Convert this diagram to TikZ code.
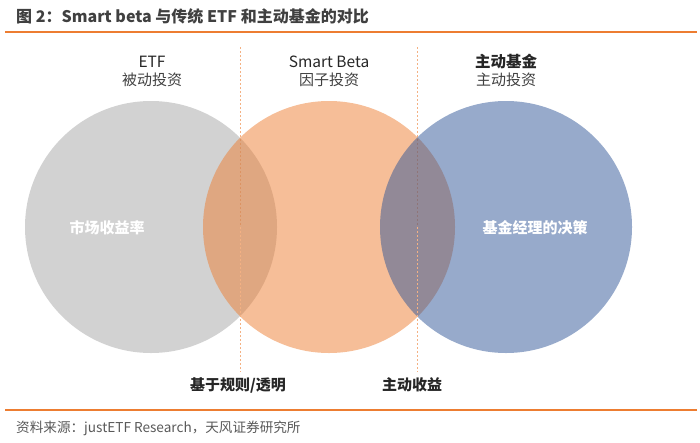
\documentclass[tikz,border=0pt]{standalone}
\usepackage{fontspec}
\setmainfont{Noto Sans CJK SC}
\usetikzlibrary{positioning}
\definecolor{Ink}{HTML}{262626}
\definecolor{InkSoft}{HTML}{404040}
\definecolor{InkNote}{HTML}{595959}
\definecolor{RuleOrange}{HTML}{ED7D31}
\definecolor{DashOrange}{HTML}{F4B183}
\definecolor{EtfGray}{HTML}{A5A5A5}
\definecolor{BetaOrange}{HTML}{ED7D31}
\definecolor{ActiveBlue}{HTML}{2F5597}
\tikzset{
  rule/.style={RuleOrange, line width=1.5pt},
  divider/.style={DashOrange, line width=0.8pt, dash pattern=on 2pt off 2pt},
  setcircle/.style={circle, minimum size=252pt, inner sep=0pt, fill=#1, fill opacity=0.5},
  heading/.style={inner sep=0pt, text height=11pt, text depth=2pt, text=Ink,
    font=\fontsize{15.5}{17}\selectfont},
  subheading/.style={heading, text=InkSoft, font=\fontsize{15}{17}\selectfont},
  incircle/.style={inner sep=0pt, text=white, font=\fontsize{15}{17}\selectfont\bfseries},
  footlabel/.style={inner sep=0pt, text=Ink, font=\fontsize{15}{17}\selectfont\bfseries}
}

\begin{document}
\begin{tikzpicture}[x=1pt,y=-1pt]
  \useasboundingbox (0,0) rectangle (700,442);
  \node[anchor=west, inner sep=0pt, text=InkSoft, font=\fontsize{16}{18}\selectfont\bfseries]
    (title) at (16,16) {图 2：Smart beta 与传统 ETF 和主动基金的对比};
  \coordinate (ruletopl) at (5,32);
  \coordinate (ruletopr) at (697,32);
  \draw[rule] (ruletopl) -- (ruletopr);

  \coordinate (cutone) at (240,47);
  \coordinate (cuttwo) at (417.5,47);
  \coordinate (midone) at (240,227);
  \coordinate (midtwo) at (417.5,227);
  \coordinate (endone) at (240,372);
  \coordinate (endtwo) at (417.5,372);
  \draw[divider] (cutone) -- (midone);
  \draw[divider] (cuttwo) -- (midtwo);

  \node[setcircle=EtfGray] (etfset) at (151,227) {};
  \node[setcircle=BetaOrange] (betaset) at (329,227) {};
  \node[setcircle=ActiveBlue] (activeset) at (506,227) {};

  \draw[divider] (midone) -- (endone);
  \draw[divider] (midtwo) -- (endtwo);

  \node[heading] (etf) at (152,63) {ETF};
  \node[subheading, below=5pt of etf] (etfsub) {被动投资};
  \node[heading] (beta) at (329,63) {Smart Beta};
  \node[subheading, below=5pt of beta] (betasub) {因子投资};
  \node[heading, font=\fontsize{15.5}{17}\selectfont\bfseries] (active) at (506,63) {主动基金};
  \node[subheading, below=5pt of active] (activesub) {主动投资};

  \node[incircle] (etfin) at (107,228) {市场收益率};
  \node[incircle] (activein) at (535,228) {基金经理的决策};

  \node[footlabel] (ruleslabel) at (238,385) {基于规则/透明};
  \node[footlabel] (alphalabel) at (412,385) {主动收益};

  \coordinate (rulebotl) at (5,410);
  \coordinate (rulebotr) at (697,410);
  \draw[rule] (rulebotl) -- (rulebotr);
  \node[anchor=west, inner sep=0pt, text=InkNote, font=\fontsize{13.6}{16}\selectfont]
    (source) at (16,428) {资料来源：justETF Research，天风证券研究所};
\end{tikzpicture}
\end{document}
